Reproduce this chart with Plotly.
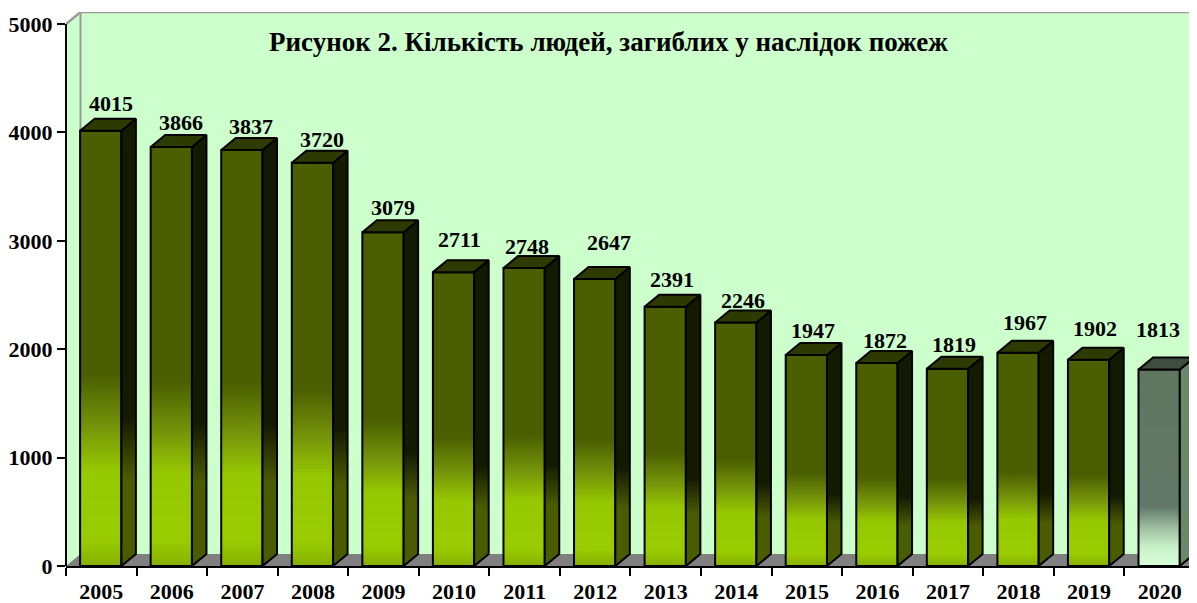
import plotly.graph_objects as go

# ---------------- data ----------------
years = ["2005", "2006", "2007", "2008", "2009", "2010", "2011", "2012",
         "2013", "2014", "2015", "2016", "2017", "2018", "2019", "2020"]
deaths = [4015, 3866, 3837, 3720, 3079, 2711, 2748, 2647,
          2391, 2246, 1947, 1872, 1819, 1967, 1902, 1813]
y_ticks = [0, 1000, 2000, 3000, 4000, 5000]
title_text = "Рисунок 2. Кількість людей, загиблих у наслідок пожеж"

# ---------------- geometry / style ----------------
PAGE_OFF = 8                     # default body margin of the html page
W, H = 1197 - PAGE_OFF, 603 - PAGE_OFF
ML, MR, MT, MB = 66 - PAGE_OFF, 0, 12 - PAGE_OFF, 37
PX_PER_Y = 108.4 / 1000.0
CAT_PX = 70.56
plot_w = W - ML - MR
plot_h = H - MT - MB
x_lo = -0.5
x_hi = -0.5 + plot_w / CAT_PX
y_top = plot_h / PX_PER_Y
DX = 14.5 / CAT_PX          # depth offset (x units)
DY = 12.0 / PX_PER_Y        # depth offset (y units)
FL, FR = -0.30, 0.285       # front face edges relative to category centre
Y_MAX = y_ticks[-1]

# small manual nudges of value labels (pixels), as placed in the original
label_dx = [3, 2, 2, 2, 2, -2, -5, 7, -1, 0, -1, 0, -1, -1, -1, -9]
label_dy = [2, -1, -1, -2, 0, 8, -3, 12, 2, -3, -1, -2, -1, 5, 6, 15]

FONT = "Liberation Serif, Times New Roman, serif"
FS = 22

front_cs = [[0.0, "#86b000"], [0.06, "#99cc00"], [0.22, "#96c800"],
            [0.32, "#75940a"], [0.44, "#4b5e00"], [1.0, "#4b5e00"]]
side_cs = [[0.0, "#4a5c00"], [0.2, "#4a5c00"], [0.34, "#141a00"], [1.0, "#141a00"]]
top_col = "#2e3b00"

last_front_cs = [[0.0, "#d8ffd8"], [0.1, "#c8f0c8"], [0.2, "#9cba9c"],
                 [0.3, "#62796a"], [1.0, "#5f775f"]]
last_side_cs = [[0.0, "#6a886a"], [1.0, "#6a886a"]]
last_top_col = "#3e4e3e"

fig = go.Figure()

# back wall / left wall (light green)
fig.add_trace(go.Scatter(
    x=[x_lo, x_lo, x_lo + DX, x_hi, x_hi, x_lo],
    y=[0, Y_MAX, Y_MAX + DY, Y_MAX + DY, 0, 0],
    fill="toself", fillcolor="#ccffcc", mode="lines",
    line=dict(width=0, color="#ccffcc"), hoverinfo="skip", showlegend=False))

# floor (grey)
fig.add_trace(go.Scatter(
    x=[x_lo, x_lo + DX, x_hi, x_hi, x_lo],
    y=[0, DY, DY, 0, 0],
    fill="toself", fillcolor="#808080", mode="lines",
    line=dict(width=0, color="#808080"), hoverinfo="skip", showlegend=False))

# wall edges (grey lines)
fig.add_trace(go.Scatter(
    x=[x_lo, x_lo + DX, x_hi],
    y=[Y_MAX, Y_MAX + DY, Y_MAX + DY],
    mode="lines", line=dict(color="#9a9a9a", width=2.5),
    hoverinfo="skip", showlegend=False, cliponaxis=False))
fig.add_trace(go.Scatter(
    x=[x_lo + DX, x_lo + DX],
    y=[Y_MAX + DY, DY],
    mode="lines", line=dict(color="#9a9a9a", width=2),
    hoverinfo="skip", showlegend=False))

# bars
n = len(years)
for i, v in enumerate(deaths):
    last = (i == n - 1)
    fcs = last_front_cs if last else front_cs
    scs = last_side_cs if last else side_cs
    tcol = last_top_col if last else top_col
    l, r = i + FL, i + FR
    # front face
    fig.add_trace(go.Scatter(
        x=[l, r, r, l, l], y=[0, 0, v, v, 0],
        fill="toself", mode="lines",
        fillgradient=dict(type="vertical", colorscale=fcs, start=0, stop=v),
        line=dict(color="black", width=2),
        hoverinfo="skip", showlegend=False))
    # side face
    fig.add_trace(go.Scatter(
        x=[r, r + DX, r + DX, r, r], y=[0, DY, v + DY, v, 0],
        fill="toself", mode="lines",
        fillgradient=dict(type="vertical", colorscale=scs, start=0, stop=v),
        line=dict(color="black", width=2),
        hoverinfo="skip", showlegend=False))
    # top face
    fig.add_trace(go.Scatter(
        x=[l, l + DX, r + DX, r, l], y=[v, v + DY, v + DY, v, v],
        fill="toself", fillcolor=tcol, mode="lines",
        line=dict(color="black", width=2),
        hoverinfo="skip", showlegend=False))
    # value label
    fig.add_annotation(
        x=i + 0.1, y=v + DY, text=str(v), showarrow=False,
        yanchor="middle", xanchor="center",
        xshift=label_dx[i], yshift=13 + label_dy[i],
        font=dict(family=FONT, size=FS, color="black", weight="bold"))

# y axis line (0..5000 only)
fig.add_shape(type="line", xref="paper", yref="y", x0=0, x1=0, y0=0, y1=Y_MAX,
              line=dict(color="black", width=2))

# title (centre at page pixel 608, 42)
fig.add_annotation(
    xref="paper", yref="paper",
    x=(608 - PAGE_OFF - ML) / plot_w, y=(H - MB - (42 - PAGE_OFF)) / plot_h,
    text=title_text, showarrow=False, xanchor="center", yanchor="middle",
    font=dict(family=FONT, size=27, color="black", weight="bold"))

fig.update_layout(
    width=W, height=H,
    margin=dict(l=ML, r=MR, t=MT, b=MB, pad=0, autoexpand=False),
    paper_bgcolor="white", plot_bgcolor="white",
    showlegend=False,
    xaxis=dict(
        range=[x_lo, x_hi], showgrid=False, zeroline=False, automargin=False,
        tickvals=list(range(n)), ticktext=years, ticks="",
        tickfont=dict(family=FONT, size=FS, color="black", weight="bold"),
        ticklabelstandoff=5,
        showline=True, linecolor="black", linewidth=2,
        minor=dict(tickvals=[i - 0.5 for i in range(n + 1)], ticks="outside",
                   ticklen=8, tickwidth=2, tickcolor="black", showgrid=False),
        fixedrange=True),
    yaxis=dict(
        range=[0, y_top], showgrid=False, zeroline=False, showline=False,
        automargin=False,
        tickvals=y_ticks, ticktext=[str(t) for t in y_ticks],
        ticks="outside", ticklen=8, tickwidth=2, tickcolor="black",
        tickfont=dict(family=FONT, size=FS, color="black", weight="bold"),
        fixedrange=True),
)

fig.write_html("out.html")
